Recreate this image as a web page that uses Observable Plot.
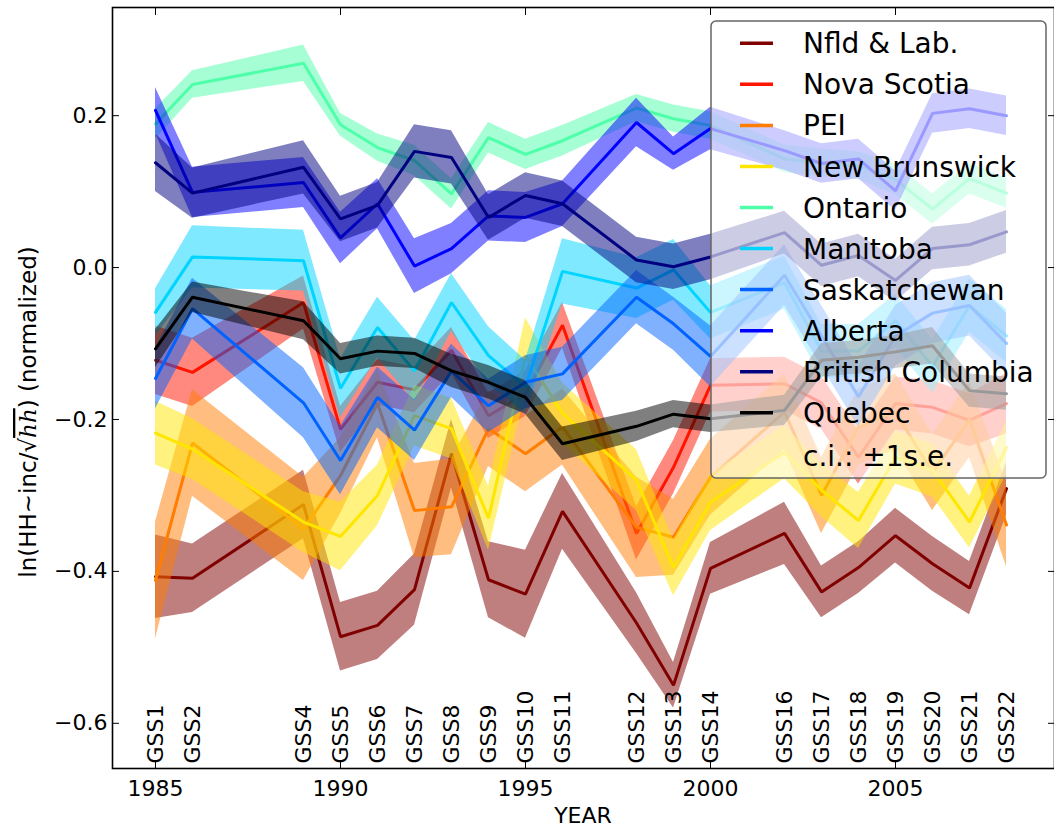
<!DOCTYPE html>
<html><head><meta charset="utf-8">
<script src="https://cdn.jsdelivr.net/npm/d3@7"></script>
<script src="https://cdn.jsdelivr.net/npm/@observablehq/plot@0.6"></script>
<style>
body{margin:0;background:#fff;}
#chart{position:relative;width:1054px;height:830px;overflow:hidden;}
</style>
</head><body><div id="chart"></div>
<script>
// ---------- data ----------
const years   = [1985,1986,1989,1990,1991,1992,1993,1994,1995,1996,1998,1999,2000,2002,2003,2004,2005,2006,2007,2008];
const surveys = ["GSS1","GSS2","GSS4","GSS5","GSS6","GSS7","GSS8","GSS9","GSS10","GSS11","GSS12","GSS13","GSS14","GSS16","GSS17","GSS18","GSS19","GSS20","GSS21","GSS22"];
const provinces = ["Nfld & Lab.","Nova Scotia","PEI","New Brunswick","Ontario","Manitoba","Saskatchewan","Alberta","British Columbia","Quebec"];
const colors    = ["#800000","#ff1400","#ff7d00","#ffe600","#4effaa","#00d4ff","#0063ff","#0000ff","#000080","#000000"];

const nfld   = [-0.407,-0.409,-0.312,-0.486,-0.471,-0.424,-0.245,-0.411,-0.430,-0.321,-0.468,-0.550,-0.396,-0.350,-0.427,-0.395,-0.353,-0.390,-0.422,-0.291];
const nfldSE = [0.055,0.045,0.045,0.045,0.045,0.047,0.045,0.050,0.058,0.050,0.040,0.030,0.034,0.041,0.034,0.034,0.036,0.036,0.035,0.035];
const ns     = [-0.122,-0.138,-0.046,-0.213,-0.151,-0.161,-0.109,-0.195,-0.166,-0.076,-0.350,-0.263,-0.155,-0.153,-0.178,-0.250,-0.179,-0.184,-0.201,-0.179];
const nsSE   = [0.045,0.045,0.035,0.030,0.030,0.030,0.030,0.030,0.030,0.030,0.035,0.035,0.035,0.035,0.035,0.035,0.035,0.035,0.035,0.040];
const pei    = [-0.412,-0.231,-0.344,-0.274,-0.179,-0.320,-0.315,-0.212,-0.245,-0.210,-0.342,-0.355,-0.276,-0.190,-0.300,-0.210,-0.190,-0.270,-0.200,-0.339];
const peiSE  = [0.077,0.070,0.068,0.050,0.045,0.062,0.063,0.050,0.050,0.050,0.066,0.050,0.050,0.050,0.050,0.050,0.050,0.050,0.050,0.055];
const nb     = [-0.218,-0.239,-0.335,-0.354,-0.300,-0.195,-0.212,-0.330,-0.116,-0.192,-0.280,-0.395,-0.309,-0.243,-0.293,-0.333,-0.250,-0.267,-0.335,-0.237];
const nbSE   = [0.042,0.040,0.040,0.045,0.040,0.040,0.040,0.042,0.050,0.040,0.040,0.037,0.037,0.035,0.035,0.037,0.035,0.035,0.034,0.035];
const ont    = [0.189,0.241,0.269,0.188,0.158,0.141,0.097,0.171,0.149,0.167,0.210,0.196,0.187,0.143,0.138,0.134,0.116,0.077,0.117,0.098];
const ontSE  = [0.020,0.018,0.024,0.015,0.018,0.020,0.020,0.020,0.020,0.020,0.018,0.018,0.018,0.018,0.018,0.018,0.020,0.020,0.020,0.020];
const man    = [-0.059,0.014,0.009,-0.159,-0.079,-0.136,-0.046,-0.116,-0.157,-0.005,-0.027,-0.003,-0.059,-0.020,-0.110,-0.110,-0.070,-0.130,-0.050,-0.090];
const manSE  = [0.031,0.041,0.040,0.039,0.040,0.040,0.038,0.038,0.035,0.043,0.040,0.040,0.035,0.035,0.035,0.035,0.035,0.035,0.035,0.035];
const sask   = [-0.146,-0.054,-0.178,-0.254,-0.171,-0.214,-0.136,-0.182,-0.151,-0.140,-0.039,-0.074,-0.117,-0.010,-0.090,-0.170,-0.090,-0.060,-0.050,-0.100];
const saskSE = [0.040,0.040,0.046,0.045,0.040,0.040,0.035,0.035,0.035,0.035,0.035,0.035,0.040,0.040,0.040,0.040,0.040,0.040,0.040,0.040];
const alb    = [0.207,0.099,0.112,0.039,0.084,0.002,0.025,0.068,0.066,0.084,0.191,0.150,0.183,0.154,0.137,0.143,0.101,0.203,0.209,0.200];
const albSE  = [0.030,0.033,0.033,0.034,0.033,0.036,0.033,0.033,0.033,0.030,0.032,0.022,0.028,0.026,0.026,0.026,0.026,0.026,0.026,0.026];
const bc     = [0.138,0.098,0.132,0.064,0.082,0.153,0.145,0.066,0.095,0.084,0.010,0.001,0.014,0.046,0.003,0.016,-0.017,0.025,0.030,0.047];
const bcSE   = [0.038,0.033,0.035,0.030,0.030,0.035,0.035,0.030,0.030,0.030,0.030,0.030,0.030,0.028,0.028,0.028,0.028,0.028,0.028,0.028];
const queb   = [-0.107,-0.039,-0.070,-0.120,-0.110,-0.113,-0.136,-0.151,-0.171,-0.232,-0.209,-0.193,-0.199,-0.188,-0.122,-0.118,-0.111,-0.103,-0.162,-0.166];
const quebSE = [0.025,0.020,0.025,0.020,0.020,0.020,0.022,0.022,0.022,0.022,0.020,0.018,0.018,0.020,0.022,0.022,0.022,0.024,0.022,0.022];

const seriesValues = [nfld, ns, pei, nb, ont, man, sask, alb, bc, queb];
const seriesSE     = [nfldSE, nsSE, peiSE, nbSE, ontSE, manSE, saskSE, albSE, bcSE, quebSE];

const xTicks = [1985,1990,1995,2000,2005];
const yTicks = [-0.6,-0.4,-0.2,0.0,0.2];
const xDomain = [1983.838, 2009.297];
const yDomain = [-0.6595, 0.3424];
const xLabel = "YEAR";
const legendNote = "c.i.: ±1s.e.";

// ---------- build ----------
const FONT = "DejaVu Sans";
const rows = provinces.map((p, i) => years.map((yr, j) => ({
  province: p, year: yr,
  value: seriesValues[i][j],
  lo: seriesValues[i][j] - seriesSE[i][j],
  hi: seriesValues[i][j] + seriesSE[i][j]
})));
const surveyRows = years.map((yr, j) => ({year: yr, label: surveys[j]}));

const marks = [];
provinces.forEach((p, i) => {
  marks.push(Plot.areaY(rows[i], {x: "year", y1: "lo", y2: "hi", fill: colors[i], fillOpacity: 0.5}));
  marks.push(Plot.lineY(rows[i], {x: "year", y: "value", stroke: colors[i], strokeWidth: 3, strokeLinejoin: "miter"}));
});
marks.push(Plot.text(surveyRows, {x: "year", text: "label", frameAnchor: "bottom", rotate: -90,
  textAnchor: "start", lineAnchor: "middle", fontSize: 22, dy: -5, fill: "black"}));
marks.push(Plot.axisX(xTicks, {anchor: "bottom", tickSize: -7, tickPadding: 19, fontSize: 22, tickFormat: d => String(d), label: null}));
marks.push(Plot.axisX(xTicks, {anchor: "top", tickSize: -7, tickFormat: () => "", label: null}));
marks.push(Plot.axisY(yTicks, {anchor: "left", tickSize: -7, tickPadding: 12, fontSize: 22, tickFormat: d3.format(".1f"), label: null}));
marks.push(Plot.axisY(yTicks, {anchor: "right", tickSize: -7, tickFormat: () => "", label: null}));
marks.push(Plot.frame({stroke: "black", strokeWidth: 1.6}));

const chart = Plot.plot({
  width: 1054, height: 830,
  marginLeft: 112, marginRight: 0, marginTop: 7, marginBottom: 62,
  style: {fontFamily: FONT, background: "white", overflow: "visible"},
  x: {domain: xDomain, axis: null},
  y: {domain: yDomain, axis: null},
  marks
});
document.getElementById("chart").appendChild(chart);

const svg = d3.select(chart);

// y-axis label
const yl = svg.append("text")
  .attr("transform", "translate(36,412) rotate(-90)")
  .attr("text-anchor", "middle").attr("font-size", 23).attr("font-family", FONT).attr("fill", "black");
yl.append("tspan").text("ln(HH~inc/√");
yl.append("tspan").attr("font-family", "DejaVu Serif").attr("font-style", "italic")
  .attr("text-decoration", "overline").text("hh");
yl.append("tspan").text(") (normalized)");

// x-axis label
svg.append("text").attr("x", 583).attr("y", 823).attr("text-anchor", "middle")
  .attr("font-size", 22).attr("font-family", FONT).attr("fill", "black").text(xLabel);

// legend
const lg = svg.append("g").attr("text-anchor", "start");
lg.append("rect").attr("x", 711).attr("y", 21).attr("width", 335).attr("height", 457).attr("rx", 5)
  .attr("fill", "white").attr("fill-opacity", 0.6).attr("stroke", "#666").attr("stroke-width", 1.5);
provinces.forEach((p, i) => {
  const yy = 43.3 + 41.05 * i;
  lg.append("line").attr("x1", 740).attr("x2", 773).attr("y1", yy).attr("y2", yy)
    .attr("stroke", colors[i]).attr("stroke-width", 3.5);
  lg.append("text").attr("x", 803).attr("y", yy).attr("dy", "0.36em").attr("font-size", 28)
    .attr("text-anchor", "start").attr("font-family", FONT).attr("fill", "black").text(p);
});
lg.append("text").attr("x", 803).attr("y", 43.3 + 41.05 * 10 + 2).attr("dy", "0.36em").attr("font-size", 28)
  .attr("text-anchor", "start").attr("font-family", FONT).attr("fill", "black").text(legendNote);
</script>
</body></html>
